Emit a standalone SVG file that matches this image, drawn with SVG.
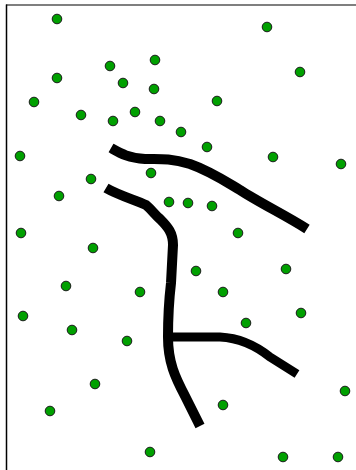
<svg xmlns="http://www.w3.org/2000/svg" width="356" height="470" viewBox="0 0 356 470">
<style>
.d{fill:#00a000;stroke:#1a1a1a;stroke-width:1}
.w{fill:none;stroke:#000;stroke-width:10;stroke-linejoin:round;stroke-linecap:butt}
</style>
<rect width="356" height="470" fill="#fff"/>
<g id="frame">
<line x1="6" y1="5" x2="356" y2="5" stroke="#555" stroke-width="1.5"/>
<line x1="6.5" y1="4.5" x2="6.5" y2="470" stroke="#000" stroke-width="1.5"/>
</g>
<g id="connectors">
<path class="w" d="M111,148 C120,153 128,158 145,159 C160,159 170,158 190,164 C210,171 225,181 240,190 C260,203 285,215 307,229"/>
<path class="w" d="M106,188 C118,195 135,200 146,205 C152,210 155,215 160,219 C168,227 173,233 173,245 L171,283 C169,300 168,320 168,337 C168,362 175,377 185,396 L200,426"/>
<path class="w" style="stroke-width:9" d="M168,337 L220,337 C240,338 255,345 270,357 L297,374"/>
</g>
<g id="dots">
<circle class="d" cx="57" cy="19" r="4.8"/>
<circle class="d" cx="267" cy="27" r="4.8"/>
<circle class="d" cx="110" cy="66" r="4.8"/>
<circle class="d" cx="155" cy="60" r="4.8"/>
<circle class="d" cx="57" cy="78" r="4.8"/>
<circle class="d" cx="300" cy="72" r="4.8"/>
<circle class="d" cx="123" cy="83" r="4.8"/>
<circle class="d" cx="154" cy="89" r="4.8"/>
<circle class="d" cx="34" cy="102" r="4.8"/>
<circle class="d" cx="217" cy="101" r="4.8"/>
<circle class="d" cx="81" cy="115" r="4.8"/>
<circle class="d" cx="135" cy="112" r="4.8"/>
<circle class="d" cx="113" cy="121" r="4.8"/>
<circle class="d" cx="160" cy="121" r="4.8"/>
<circle class="d" cx="181" cy="132" r="4.8"/>
<circle class="d" cx="20" cy="156" r="4.8"/>
<circle class="d" cx="207" cy="147" r="4.8"/>
<circle class="d" cx="273" cy="157" r="4.8"/>
<circle class="d" cx="341" cy="164" r="4.8"/>
<circle class="d" cx="151" cy="173" r="4.8"/>
<circle class="d" cx="91" cy="179" r="4.8"/>
<circle class="d" cx="59" cy="196" r="4.8"/>
<circle class="d" cx="169" cy="202" r="4.8"/>
<circle class="d" cx="188" cy="203" r="4.8"/>
<circle class="d" cx="212" cy="206" r="4.8"/>
<circle class="d" cx="21" cy="233" r="4.8"/>
<circle class="d" cx="93" cy="248" r="4.8"/>
<circle class="d" cx="238" cy="233" r="4.8"/>
<circle class="d" cx="196" cy="271" r="4.8"/>
<circle class="d" cx="286" cy="269" r="4.8"/>
<circle class="d" cx="66" cy="286" r="4.8"/>
<circle class="d" cx="140" cy="292" r="4.8"/>
<circle class="d" cx="223" cy="292" r="4.8"/>
<circle class="d" cx="23" cy="316" r="4.8"/>
<circle class="d" cx="301" cy="313" r="4.8"/>
<circle class="d" cx="246" cy="323" r="4.8"/>
<circle class="d" cx="72" cy="330" r="4.8"/>
<circle class="d" cx="127" cy="341" r="4.8"/>
<circle class="d" cx="95" cy="384" r="4.8"/>
<circle class="d" cx="50" cy="411" r="4.8"/>
<circle class="d" cx="345" cy="391" r="4.8"/>
<circle class="d" cx="223" cy="405" r="4.8"/>
<circle class="d" cx="150" cy="452" r="4.8"/>
<circle class="d" cx="283" cy="457" r="4.8"/>
<circle class="d" cx="338" cy="457" r="4.8"/>
</g>
</svg>
